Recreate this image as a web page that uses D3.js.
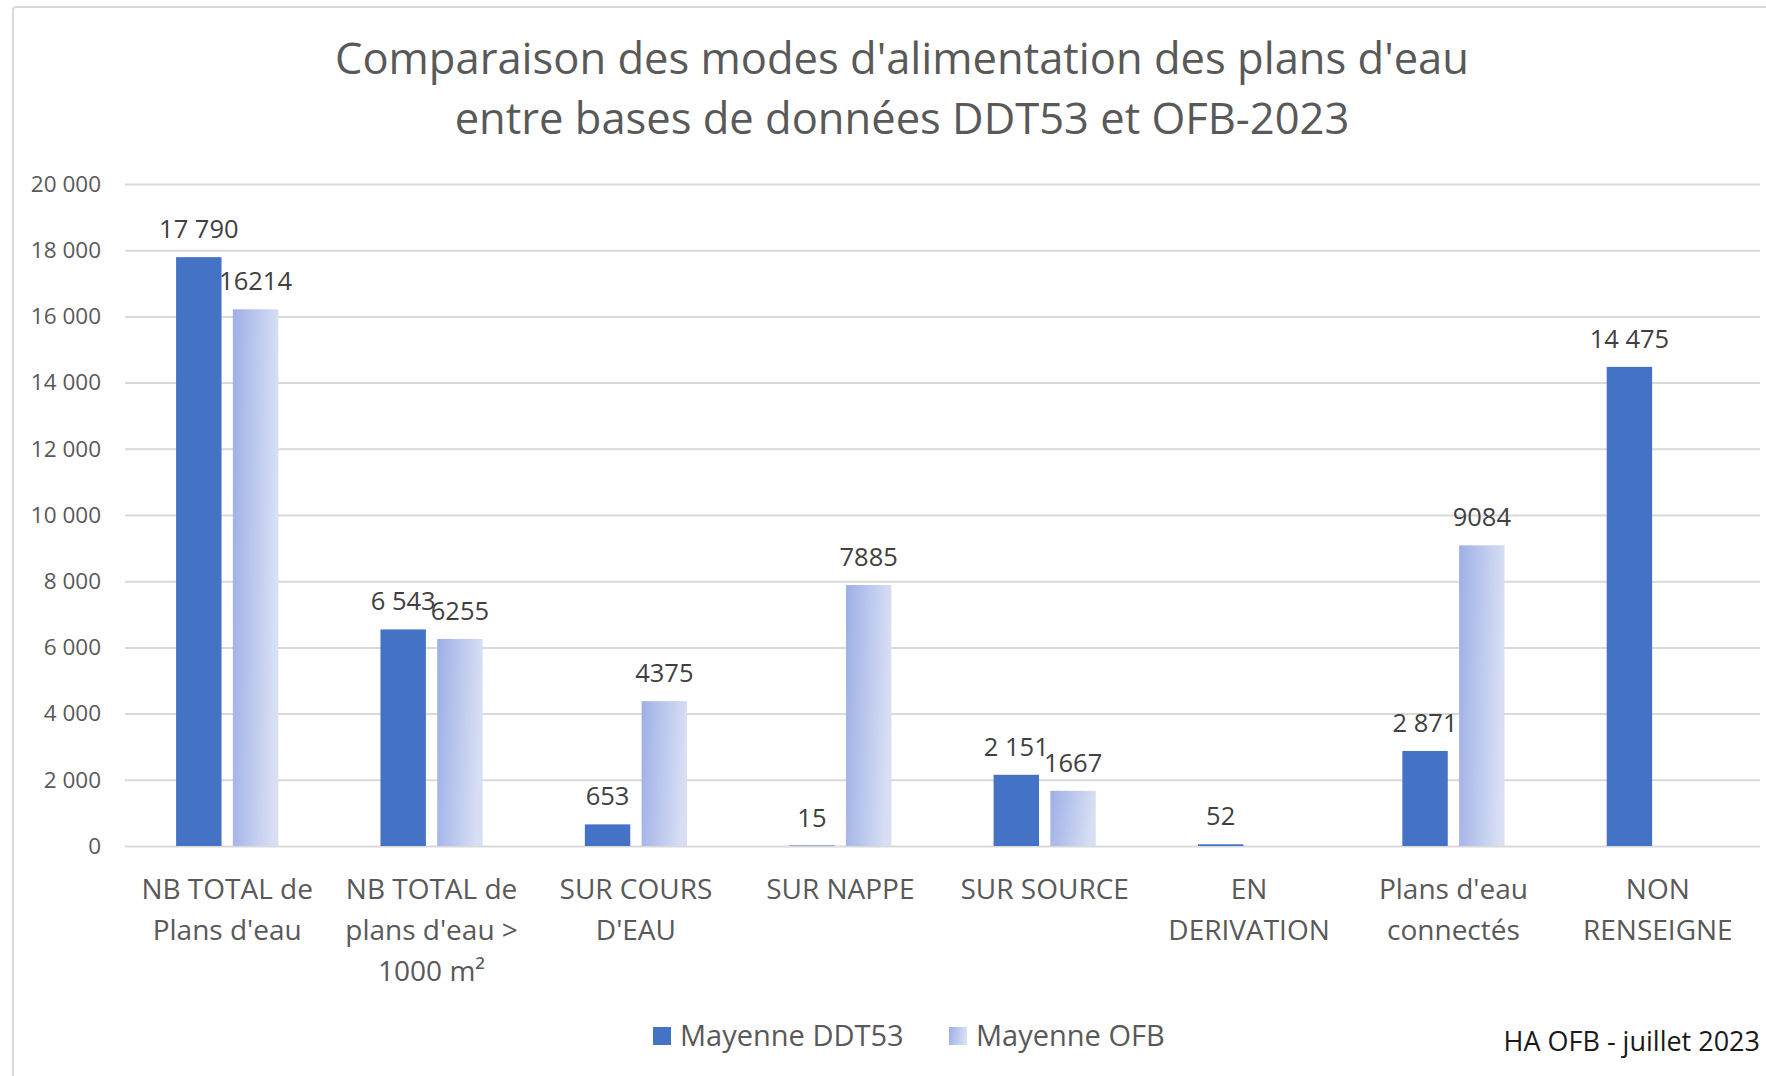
<!DOCTYPE html>
<html lang="fr">
<head>
<meta charset="utf-8">
<script src="https://d3js.org/d3.v7.min.js"></script>
<style>
body { margin: 0; background: #fff; }
svg text { font-family: "Open Sans", sans-serif; }
</style>
</head>
<body>
<script>
// chart data
var categories = ["NB TOTAL de Plans d'eau", "NB TOTAL de plans d'eau > 1000 m²", "SUR COURS D'EAU",
  "SUR NAPPE", "SUR SOURCE", "EN DERIVATION", "Plans d'eau connectés", "NON RENSEIGNE"];
var categoryLines = [["NB TOTAL de", "Plans d'eau"], ["NB TOTAL de", "plans d'eau >", "1000 m²"],
  ["SUR COURS", "D'EAU"], ["SUR NAPPE"], ["SUR SOURCE"], ["EN", "DERIVATION"],
  ["Plans d'eau", "connectés"], ["NON", "RENSEIGNE"]];
var seriesNames = ["Mayenne DDT53", "Mayenne OFB"];
var ddt53 = [17790, 6543, 653, 15, 2151, 52, 2871, 14475];
var ofb = [16214, 6255, 4375, 7885, 1667, null, 9084, null];
var ddt53Labels = ["17 790", "6 543", "653", "15", "2 151", "52", "2 871", "14 475"];
var ofbLabels = ["16214", "6255", "4375", "7885", "1667", "", "9084", ""];
var yTicks = [0, 2000, 4000, 6000, 8000, 10000, 12000, 14000, 16000, 18000, 20000];
var titleLines = ["Comparaison des modes d'alimentation des plans d'eau",
  "entre bases de données DDT53 et OFB-2023"];
var source = "HA OFB - juillet 2023";

var width = 1766, height = 1076;
// plot area (note: "top" is reserved on window, so use other names)
var plotLeft = 125, plotRight = 1760, plotTop = 184, plotBottom = 846;

var svg = d3.select("body").append("svg")
  .attr("width", width)
  .attr("height", height);

// gradient for the OFB bars
var defs = svg.append("defs");
var grad = defs.append("linearGradient")
  .attr("id", "ofbGrad")
  .attr("x1", 0).attr("y1", 0).attr("x2", 1).attr("y2", 0.15);
grad.append("stop").attr("offset", "0%").attr("stop-color", "#9dafe6");
grad.append("stop").attr("offset", "100%").attr("stop-color", "#d8dff4");

// chart frame
svg.append("rect")
  .attr("x", 13).attr("y", 7)
  .attr("width", width + 20).attr("height", height + 20)
  .attr("rx", 3)
  .attr("fill", "#fff")
  .attr("stroke", "#d9d9d9")
  .attr("stroke-width", 2);

// title
svg.append("g").selectAll("text")
  .data(titleLines)
  .enter().append("text")
  .attr("x", 902)
  .attr("y", function(d, i) { return 74 + i * 60; })
  .attr("text-anchor", "middle")
  .attr("fill", "#595959")
  .style("font-size", "43.5px")
  .text(function(d) { return d; });

// scales
var x0 = d3.scaleBand()
  .domain(categories)
  .range([plotLeft, plotRight])
  .paddingInner(0.5)
  .paddingOuter(0.25);

var x1 = d3.scaleBand()
  .domain(seriesNames)
  .range([0, x0.bandwidth()])
  .paddingInner(0.2);

var y = d3.scaleLinear()
  .domain([0, 20000])
  .range([plotBottom, plotTop]);

var fr = d3.formatLocale({decimal: ",", thousands: "\u00a0", grouping: [3], currency: ["", " €"]});

// y axis with gridlines
var yAxis = d3.axisLeft(y)
  .tickValues(yTicks)
  .tickSize(-(plotRight - plotLeft))
  .tickPadding(24)
  .tickFormat(fr.format(",d"));

var gy = svg.append("g")
  .attr("transform", "translate(" + plotLeft + ",0)")
  .call(yAxis);
gy.select(".domain").remove();
gy.selectAll(".tick line").attr("stroke", "#d9d9d9").attr("stroke-width", 2);
gy.selectAll(".tick text")
  .attr("fill", "#595959")
  .style("font-size", "22.5px");

// bars
var rows = categories.map(function(c, i) {
  return [
    {cat: c, series: seriesNames[0], value: ddt53[i], label: ddt53Labels[i]},
    {cat: c, series: seriesNames[1], value: ofb[i], label: ofbLabels[i]}
  ];
});

var group = svg.append("g").selectAll("g")
  .data(rows)
  .enter().append("g")
  .attr("transform", function(d) { return "translate(" + x0(d[0].cat) + ",0)"; });

var bars = group.selectAll("g")
  .data(function(d) { return d.filter(function(e) { return e.value != null; }); })
  .enter().append("g");

bars.append("rect")
  .attr("x", function(d) { return x1(d.series); })
  .attr("y", function(d) { return y(d.value); })
  .attr("width", x1.bandwidth())
  .attr("height", function(d) { return y(0) - y(d.value); })
  .attr("fill", function(d) { return d.series === seriesNames[0] ? "#4472c4" : "url(#ofbGrad)"; });

bars.append("text")
  .attr("x", function(d) { return x1(d.series) + x1.bandwidth() / 2; })
  .attr("y", function(d) { return y(d.value) - 19; })
  .attr("text-anchor", "middle")
  .attr("fill", "#404040")
  .style("font-size", "25.5px")
  .text(function(d) { return d.label; });

// category labels
var cat = svg.append("g").selectAll("text")
  .data(categories)
  .enter().append("text")
  .attr("x", function(d) { return x0(d) + x0.bandwidth() / 2; })
  .attr("y", 899)
  .attr("text-anchor", "middle")
  .attr("fill", "#595959")
  .style("font-size", "28px");

cat.selectAll("tspan")
  .data(function(d, i) { return categoryLines[i]; })
  .enter().append("tspan")
  .attr("x", function() { return d3.select(this.parentNode).attr("x"); })
  .attr("dy", function(d, i) { return i === 0 ? 0 : 41; })
  .text(function(d) { return d; });

// legend
var legend = svg.append("g").selectAll("g")
  .data(seriesNames)
  .enter().append("g")
  .attr("transform", function(d, i) { return "translate(" + (653 + i * 296) + ",1027)"; });

legend.append("rect")
  .attr("width", 18).attr("height", 18)
  .attr("fill", function(d, i) { return i === 0 ? "#4472c4" : "url(#ofbGrad)"; });

legend.append("text")
  .attr("x", 27)
  .attr("y", 19)
  .attr("fill", "#595959")
  .style("font-size", "29px")
  .text(function(d) { return d; });

// source note
svg.append("text")
  .attr("x", 1760)
  .attr("y", 1051)
  .attr("text-anchor", "end")
  .attr("fill", "#1a1a1a")
  .style("font-size", "27px")
  .text(source);
</script>
</body>
</html>
